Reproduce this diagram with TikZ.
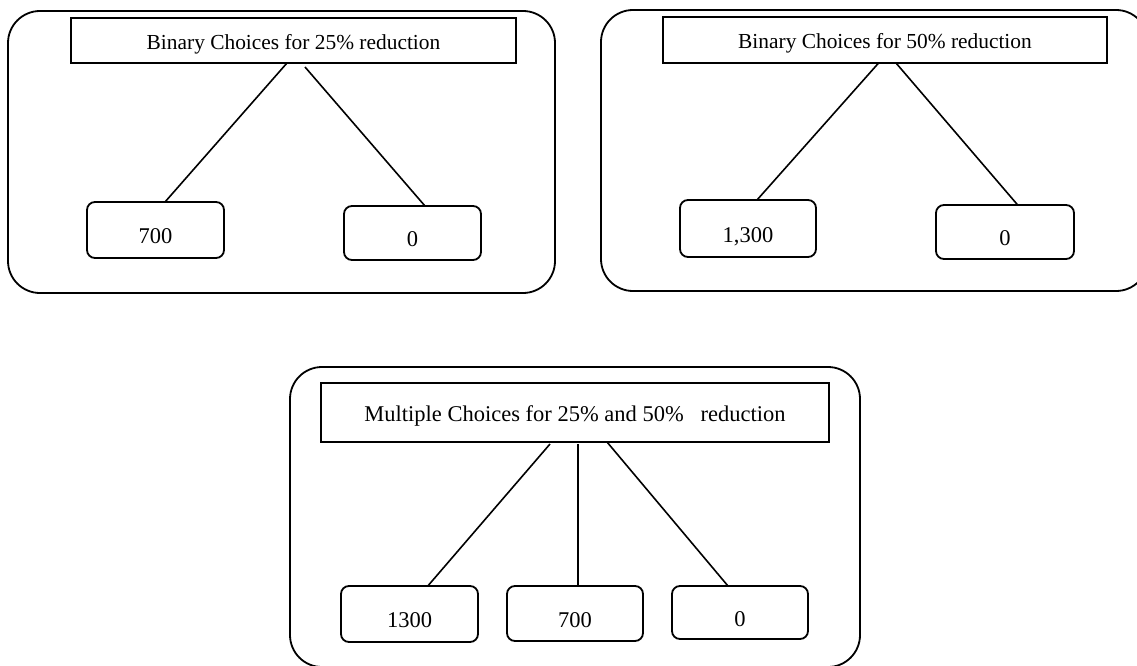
\documentclass[tikz,border=0pt]{standalone}
\usepackage{fontspec}
\setmainfont{Liberation Serif}
\usetikzlibrary{calc}
\begin{document}
\begin{tikzpicture}[x=1pt,y=-1pt,
  panel/.style={draw,line width=1.8pt,rounded corners=32pt},
  titlebox/.style={draw,line width=1.8pt,inner sep=0pt,outer sep=0pt,
    text height=18pt,text depth=0pt,font=\fontsize{22.5}{27}\selectfont},
  smalltitle/.style={font=\fontsize{21.4}{26}\selectfont},
  valbox/.style={draw,line width=1.8pt,rounded corners=8pt,inner sep=0pt,outer sep=0pt,
    text height=27pt,text depth=0pt,font=\fontsize{22.5}{27}\selectfont},
  link/.style={line width=1.6pt}]
\useasboundingbox (0,0) rectangle (1137,666);
\clip (0,0) rectangle (1137,666);

% panels
\draw[panel] (8,11) rectangle (555,293);
\draw[panel] (601,10) rectangle (1148,291);
\draw[panel] (290,367) rectangle (860,667);

% left panel
\node[titlebox,smalltitle,minimum width=445pt,minimum height=45pt] (t1) at (293.5,40.5) {Binary Choices for 25\% reduction};
\node[valbox,minimum width=137pt,minimum height=56pt] (v1) at (155.5,230) {700};
\node[valbox,minimum width=137pt,minimum height=54pt] (v2) at (412.5,233) {0};
\draw[link] ([xshift=-6.5pt]t1.south) -- ([xshift=9.5pt]v1.north);
\draw[link] ([xshift=11.5pt,yshift=-4pt]t1.south) -- ([xshift=12.5pt]v2.north);

% right panel
\node[titlebox,smalltitle,minimum width=444pt,minimum height=46pt] (t2) at (885,40) {Binary Choices for 50\% reduction};
\node[valbox,minimum width=136pt,minimum height=57pt] (v3) at (748,228.5) {1,300};
\node[valbox,minimum width=138pt,minimum height=54pt] (v4) at (1005,232) {0};
\draw[link] ([xshift=-6.4pt]t2.south) -- ([xshift=9pt]v3.north);
\draw[link] ([xshift=11pt]t2.south) -- ([xshift=12.7pt]v4.north);

% bottom panel
\node[titlebox,minimum width=508pt,minimum height=59pt] (t3) at (575,412.5) {Multiple Choices for 25\% and 50\%\ \ \ reduction};
\node[valbox,minimum width=137pt,minimum height=56pt] (v5) at (409.5,614) {1300};
\node[valbox,minimum width=136pt,minimum height=55pt] (v6) at (575,613.5) {700};
\node[valbox,minimum width=136pt,minimum height=53pt] (v7) at (740,612.5) {0};
\draw[link] ([xshift=-25pt,yshift=-2pt]t3.south) -- ([xshift=18.3pt]v5.north);
\draw[link] ([xshift=3pt,yshift=-2pt]t3.south) -- ([xshift=3pt]v6.north);
\draw[link] ([xshift=32pt]t3.south) -- ([xshift=-12pt]v7.north);
\end{tikzpicture}
\end{document}
